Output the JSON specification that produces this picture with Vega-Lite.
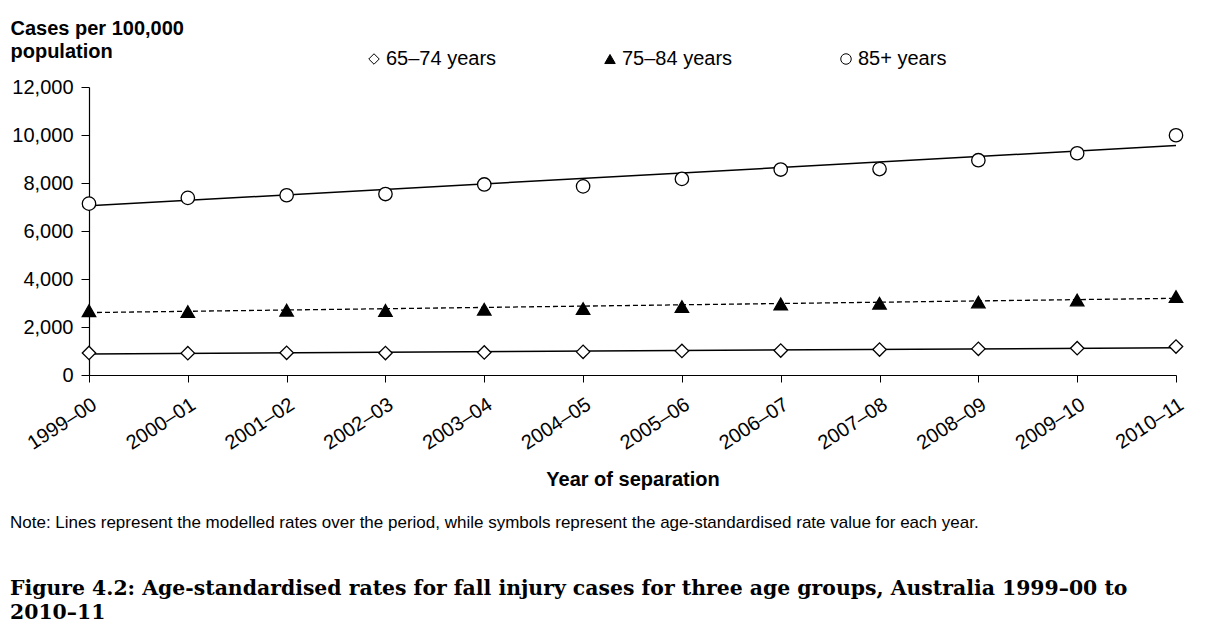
{
  "$schema": "https://vega.github.io/schema/vega-lite/v6.json",
  "autosize": {"type": "none"},
  "width": 1087,
  "height": 288,
  "padding": {"left": 89, "top": 87, "right": 48, "bottom": 248},
  "background": "white",
  "config": {
    "view": {"stroke": null},
    "font": "Liberation Sans",
    "axis": {"domainColor": "black", "tickColor": "black", "labelColor": "black", "titleColor": "black", "grid": false, "labelFont": "Liberation Sans", "titleFont": "Liberation Sans"},
    "legend": {"labelFont": "Liberation Sans", "labelColor": "black"}
  },
  "datasets": {
    "observed": [
      {"year": "1999–00", "group": "65–74 years", "rate": 920},
      {"year": "2000–01", "group": "65–74 years", "rate": 910},
      {"year": "2001–02", "group": "65–74 years", "rate": 925},
      {"year": "2002–03", "group": "65–74 years", "rate": 915},
      {"year": "2003–04", "group": "65–74 years", "rate": 940},
      {"year": "2004–05", "group": "65–74 years", "rate": 965},
      {"year": "2005–06", "group": "65–74 years", "rate": 1005},
      {"year": "2006–07", "group": "65–74 years", "rate": 1020},
      {"year": "2007–08", "group": "65–74 years", "rate": 1060},
      {"year": "2008–09", "group": "65–74 years", "rate": 1090},
      {"year": "2009–10", "group": "65–74 years", "rate": 1115},
      {"year": "2010–11", "group": "65–74 years", "rate": 1185},
      {"year": "1999–00", "group": "75–84 years", "rate": 2680},
      {"year": "2000–01", "group": "75–84 years", "rate": 2640},
      {"year": "2001–02", "group": "75–84 years", "rate": 2700},
      {"year": "2002–03", "group": "75–84 years", "rate": 2690},
      {"year": "2003–04", "group": "75–84 years", "rate": 2740},
      {"year": "2004–05", "group": "75–84 years", "rate": 2770},
      {"year": "2005–06", "group": "75–84 years", "rate": 2850},
      {"year": "2006–07", "group": "75–84 years", "rate": 2960},
      {"year": "2007–08", "group": "75–84 years", "rate": 2990},
      {"year": "2008–09", "group": "75–84 years", "rate": 3040},
      {"year": "2009–10", "group": "75–84 years", "rate": 3125},
      {"year": "2010–11", "group": "75–84 years", "rate": 3265},
      {"year": "1999–00", "group": "85+ years", "rate": 7140},
      {"year": "2000–01", "group": "85+ years", "rate": 7380},
      {"year": "2001–02", "group": "85+ years", "rate": 7490},
      {"year": "2002–03", "group": "85+ years", "rate": 7540},
      {"year": "2003–04", "group": "85+ years", "rate": 7940},
      {"year": "2004–05", "group": "85+ years", "rate": 7860},
      {"year": "2005–06", "group": "85+ years", "rate": 8170},
      {"year": "2006–07", "group": "85+ years", "rate": 8560},
      {"year": "2007–08", "group": "85+ years", "rate": 8580},
      {"year": "2008–09", "group": "85+ years", "rate": 8950},
      {"year": "2009–10", "group": "85+ years", "rate": 9240},
      {"year": "2010–11", "group": "85+ years", "rate": 9990}
    ],
    "modelled": [
      {"year": "1999–00", "group": "65–74 years", "rate": 880},
      {"year": "2010–11", "group": "65–74 years", "rate": 1135},
      {"year": "1999–00", "group": "75–84 years", "rate": 2600},
      {"year": "2010–11", "group": "75–84 years", "rate": 3195},
      {"year": "1999–00", "group": "85+ years", "rate": 7050},
      {"year": "2010–11", "group": "85+ years", "rate": 9560}
    ]
  },
  "title": {
    "text": "Note: Lines represent the modelled rates over the period, while symbols represent the age-standardised rate value for each year.",
    "orient": "bottom",
    "anchor": "start",
    "frame": "group",
    "dx": -79,
    "offset": 26,
    "font": "Liberation Sans",
    "fontSize": 17,
    "fontWeight": "normal",
    "color": "black",
    "subtitle": ["Figure 4.2: Age-standardised rates for fall injury cases for three age groups, Australia 1999–00 to", "2010–11"],
    "subtitleFont": "DejaVu Serif",
    "subtitleFontSize": 20.4,
    "subtitleFontWeight": "bold",
    "subtitleColor": "black",
    "subtitlePadding": 47,
    "subtitleLineHeight": 24
  },
  "layer": [
    {
      "data": {"name": "modelled"},
      "transform": [{"filter": "datum.group !== '75–84 years'"}],
      "mark": {"type": "line", "color": "black", "strokeWidth": 1.5},
      "encoding": {
        "x": {"field": "year", "type": "ordinal"},
        "y": {"field": "rate", "type": "quantitative"},
        "detail": {"field": "group"}
      }
    },
    {
      "data": {"name": "modelled"},
      "transform": [{"filter": "datum.group === '75–84 years'"}],
      "mark": {"type": "line", "color": "black", "strokeWidth": 1.3, "strokeDash": [5, 3]},
      "encoding": {
        "x": {"field": "year", "type": "ordinal"},
        "y": {"field": "rate", "type": "quantitative"}
      }
    },
    {
      "data": {"name": "observed"},
      "mark": {"type": "point", "filled": true, "strokeWidth": 1.3, "opacity": 1, "size": 180},
      "encoding": {
        "x": {
          "field": "year", "type": "ordinal", "sort": null,
          "scale": {"type": "point", "padding": 0},
          "axis": {"title": "Year of separation", "titleFontSize": 20, "titleFontWeight": "bold", "titlePadding": 16, "labelAngle": -33, "labelAlign": "right", "labelBaseline": "top", "labelFontSize": 20, "labelPadding": 12, "tickSize": 7, "domainWidth": 1.2}
        },
        "y": {
          "field": "rate", "type": "quantitative",
          "scale": {"domain": [0, 12000], "nice": false},
          "axis": {"values": [0, 2000, 4000, 6000, 8000, 10000, 12000], "format": ",d", "labelFontSize": 20, "labelPadding": 8, "tickSize": 8, "domainWidth": 1.2,
            "title": ["Cases per 100,000", "population"], "titleFontSize": 20, "titleFontWeight": "bold", "titleAngle": 0, "titleAlign": "left", "titleBaseline": "alphabetic", "titleX": -79, "titleY": -53, "titleLineHeight": 23}
        },
        "shape": {"field": "group", "type": "nominal", "scale": {"domain": ["65–74 years", "75–84 years", "85+ years"], "range": ["diamond", "triangle-up", "circle"]},
          "legend": {"title": null, "orient": "none", "legendX": 275, "legendY": -38, "direction": "horizontal", "columns": 3, "gridAlign": "all", "columnPadding": 103, "labelFontSize": 20, "labelOffset": 2, "symbolSize": 110, "symbolStrokeWidth": 1}},
        "fill": {"field": "group", "type": "nominal", "scale": {"domain": ["65–74 years", "75–84 years", "85+ years"], "range": ["white", "black", "white"]},
          "legend": {"title": null, "orient": "none", "legendX": 275, "legendY": -38, "direction": "horizontal", "columns": 3, "gridAlign": "all", "columnPadding": 103, "labelFontSize": 20, "labelOffset": 2, "symbolSize": 110, "symbolStrokeWidth": 1}},
        "stroke": {"field": "group", "type": "nominal", "scale": {"domain": ["65–74 years", "75–84 years", "85+ years"], "range": ["black", "black", "black"]},
          "legend": {"title": null, "orient": "none", "legendX": 275, "legendY": -38, "direction": "horizontal", "columns": 3, "gridAlign": "all", "columnPadding": 103, "labelFontSize": 20, "labelOffset": 2, "symbolSize": 110, "symbolStrokeWidth": 1}}
      }
    }
  ]
}
